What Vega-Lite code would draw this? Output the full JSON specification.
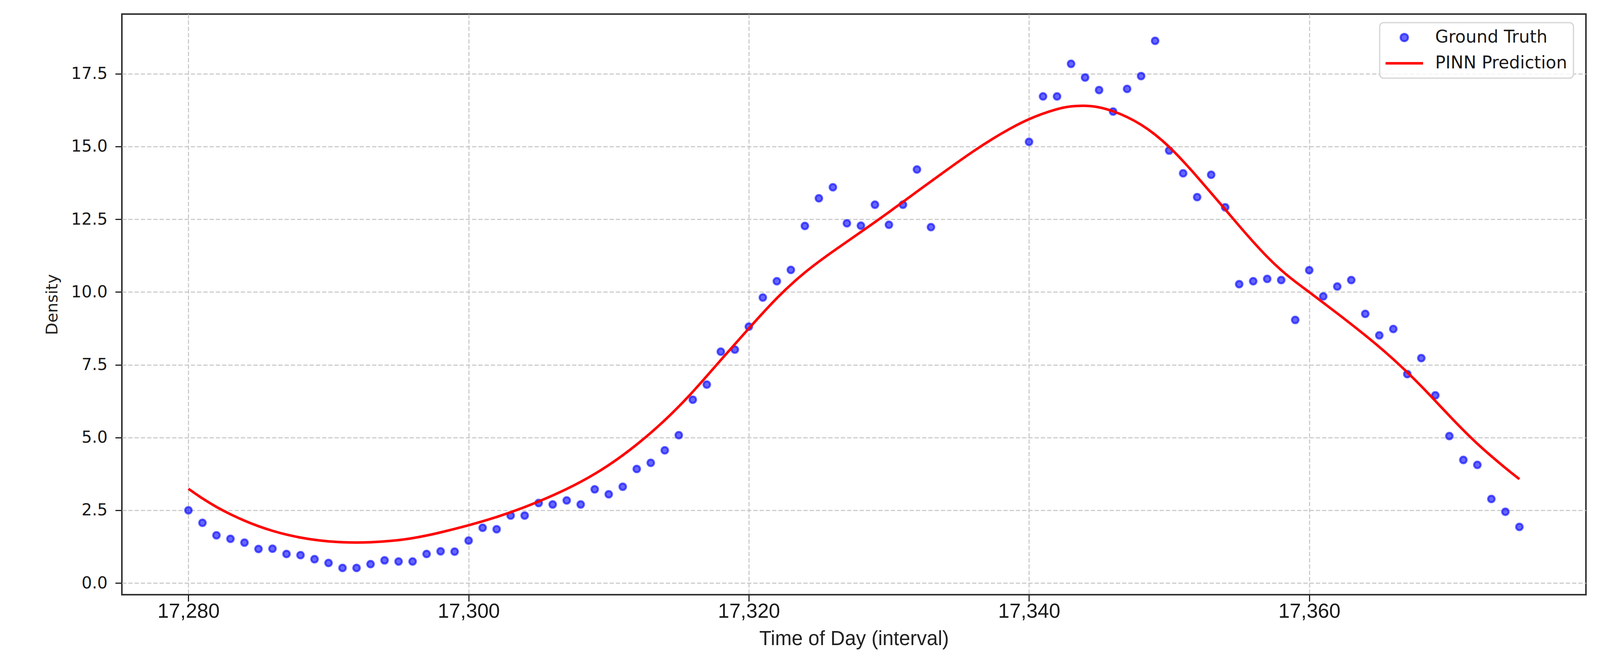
{
  "$schema": "https://vega.github.io/schema/vega-lite/v6.json",
  "width": 3748,
  "height": 1486,
  "autosize": {"type": "none"},
  "padding": {"left": 312, "top": 36, "right": 82, "bottom": 162},
  "background": "white",
  "config": {
    "view": {"stroke": "#333333", "strokeWidth": 4},
    "axis": {
      "grid": true,
      "gridColor": "#c4c4c4",
      "gridDash": [11, 5],
      "gridWidth": 2.5,
      "domain": false,
      "tickColor": "#222222",
      "tickWidth": 3,
      "tickSize": 17,
      "labelColor": "#1a1a1a",
      "titleColor": "#222222",
      "titleFontWeight": "normal",
      "labelFlush": false,
      "labelOverlap": false
    }
  },
  "data": {
    "values": [
      {"t": 17280, "density": 2.50, "series": "Ground Truth"},
      {"t": 17281, "density": 2.07, "series": "Ground Truth"},
      {"t": 17282, "density": 1.64, "series": "Ground Truth"},
      {"t": 17283, "density": 1.52, "series": "Ground Truth"},
      {"t": 17284, "density": 1.39, "series": "Ground Truth"},
      {"t": 17285, "density": 1.17, "series": "Ground Truth"},
      {"t": 17286, "density": 1.18, "series": "Ground Truth"},
      {"t": 17287, "density": 1.00, "series": "Ground Truth"},
      {"t": 17288, "density": 0.96, "series": "Ground Truth"},
      {"t": 17289, "density": 0.82, "series": "Ground Truth"},
      {"t": 17290, "density": 0.69, "series": "Ground Truth"},
      {"t": 17291, "density": 0.52, "series": "Ground Truth"},
      {"t": 17292, "density": 0.52, "series": "Ground Truth"},
      {"t": 17293, "density": 0.65, "series": "Ground Truth"},
      {"t": 17294, "density": 0.78, "series": "Ground Truth"},
      {"t": 17295, "density": 0.74, "series": "Ground Truth"},
      {"t": 17296, "density": 0.74, "series": "Ground Truth"},
      {"t": 17297, "density": 1.00, "series": "Ground Truth"},
      {"t": 17298, "density": 1.09, "series": "Ground Truth"},
      {"t": 17299, "density": 1.08, "series": "Ground Truth"},
      {"t": 17300, "density": 1.46, "series": "Ground Truth"},
      {"t": 17301, "density": 1.90, "series": "Ground Truth"},
      {"t": 17302, "density": 1.85, "series": "Ground Truth"},
      {"t": 17303, "density": 2.32, "series": "Ground Truth"},
      {"t": 17304, "density": 2.32, "series": "Ground Truth"},
      {"t": 17305, "density": 2.75, "series": "Ground Truth"},
      {"t": 17306, "density": 2.70, "series": "Ground Truth"},
      {"t": 17307, "density": 2.84, "series": "Ground Truth"},
      {"t": 17308, "density": 2.70, "series": "Ground Truth"},
      {"t": 17309, "density": 3.22, "series": "Ground Truth"},
      {"t": 17310, "density": 3.05, "series": "Ground Truth"},
      {"t": 17311, "density": 3.31, "series": "Ground Truth"},
      {"t": 17312, "density": 3.92, "series": "Ground Truth"},
      {"t": 17313, "density": 4.13, "series": "Ground Truth"},
      {"t": 17314, "density": 4.56, "series": "Ground Truth"},
      {"t": 17315, "density": 5.08, "series": "Ground Truth"},
      {"t": 17316, "density": 6.30, "series": "Ground Truth"},
      {"t": 17317, "density": 6.82, "series": "Ground Truth"},
      {"t": 17318, "density": 7.95, "series": "Ground Truth"},
      {"t": 17319, "density": 8.02, "series": "Ground Truth"},
      {"t": 17320, "density": 8.81, "series": "Ground Truth"},
      {"t": 17321, "density": 9.81, "series": "Ground Truth"},
      {"t": 17322, "density": 10.37, "series": "Ground Truth"},
      {"t": 17323, "density": 10.76, "series": "Ground Truth"},
      {"t": 17324, "density": 12.27, "series": "Ground Truth"},
      {"t": 17325, "density": 13.22, "series": "Ground Truth"},
      {"t": 17326, "density": 13.60, "series": "Ground Truth"},
      {"t": 17327, "density": 12.36, "series": "Ground Truth"},
      {"t": 17328, "density": 12.28, "series": "Ground Truth"},
      {"t": 17329, "density": 13.00, "series": "Ground Truth"},
      {"t": 17330, "density": 12.31, "series": "Ground Truth"},
      {"t": 17331, "density": 13.00, "series": "Ground Truth"},
      {"t": 17332, "density": 14.21, "series": "Ground Truth"},
      {"t": 17333, "density": 12.23, "series": "Ground Truth"},
      {"t": 17340, "density": 15.16, "series": "Ground Truth"},
      {"t": 17341, "density": 16.72, "series": "Ground Truth"},
      {"t": 17342, "density": 16.72, "series": "Ground Truth"},
      {"t": 17343, "density": 17.84, "series": "Ground Truth"},
      {"t": 17344, "density": 17.37, "series": "Ground Truth"},
      {"t": 17345, "density": 16.94, "series": "Ground Truth"},
      {"t": 17346, "density": 16.20, "series": "Ground Truth"},
      {"t": 17347, "density": 16.98, "series": "Ground Truth"},
      {"t": 17348, "density": 17.42, "series": "Ground Truth"},
      {"t": 17349, "density": 18.63, "series": "Ground Truth"},
      {"t": 17350, "density": 14.86, "series": "Ground Truth"},
      {"t": 17351, "density": 14.08, "series": "Ground Truth"},
      {"t": 17352, "density": 13.26, "series": "Ground Truth"},
      {"t": 17353, "density": 14.03, "series": "Ground Truth"},
      {"t": 17354, "density": 12.91, "series": "Ground Truth"},
      {"t": 17355, "density": 10.27, "series": "Ground Truth"},
      {"t": 17356, "density": 10.37, "series": "Ground Truth"},
      {"t": 17357, "density": 10.45, "series": "Ground Truth"},
      {"t": 17358, "density": 10.41, "series": "Ground Truth"},
      {"t": 17359, "density": 9.04, "series": "Ground Truth"},
      {"t": 17360, "density": 10.75, "series": "Ground Truth"},
      {"t": 17361, "density": 9.85, "series": "Ground Truth"},
      {"t": 17362, "density": 10.19, "series": "Ground Truth"},
      {"t": 17363, "density": 10.41, "series": "Ground Truth"},
      {"t": 17364, "density": 9.25, "series": "Ground Truth"},
      {"t": 17365, "density": 8.51, "series": "Ground Truth"},
      {"t": 17366, "density": 8.73, "series": "Ground Truth"},
      {"t": 17367, "density": 7.18, "series": "Ground Truth"},
      {"t": 17368, "density": 7.73, "series": "Ground Truth"},
      {"t": 17369, "density": 6.45, "series": "Ground Truth"},
      {"t": 17370, "density": 5.05, "series": "Ground Truth"},
      {"t": 17371, "density": 4.23, "series": "Ground Truth"},
      {"t": 17372, "density": 4.06, "series": "Ground Truth"},
      {"t": 17373, "density": 2.89, "series": "Ground Truth"},
      {"t": 17374, "density": 2.45, "series": "Ground Truth"},
      {"t": 17375, "density": 1.93, "series": "Ground Truth"},
      {"t": 17280, "density": 3.24, "series": "PINN Prediction"},
      {"t": 17281, "density": 2.90, "series": "PINN Prediction"},
      {"t": 17282, "density": 2.61, "series": "PINN Prediction"},
      {"t": 17283, "density": 2.36, "series": "PINN Prediction"},
      {"t": 17284, "density": 2.14, "series": "PINN Prediction"},
      {"t": 17285, "density": 1.95, "series": "PINN Prediction"},
      {"t": 17286, "density": 1.79, "series": "PINN Prediction"},
      {"t": 17287, "density": 1.66, "series": "PINN Prediction"},
      {"t": 17288, "density": 1.56, "series": "PINN Prediction"},
      {"t": 17289, "density": 1.48, "series": "PINN Prediction"},
      {"t": 17290, "density": 1.43, "series": "PINN Prediction"},
      {"t": 17291, "density": 1.40, "series": "PINN Prediction"},
      {"t": 17292, "density": 1.39, "series": "PINN Prediction"},
      {"t": 17293, "density": 1.40, "series": "PINN Prediction"},
      {"t": 17294, "density": 1.43, "series": "PINN Prediction"},
      {"t": 17295, "density": 1.47, "series": "PINN Prediction"},
      {"t": 17296, "density": 1.54, "series": "PINN Prediction"},
      {"t": 17297, "density": 1.63, "series": "PINN Prediction"},
      {"t": 17298, "density": 1.74, "series": "PINN Prediction"},
      {"t": 17299, "density": 1.86, "series": "PINN Prediction"},
      {"t": 17300, "density": 1.98, "series": "PINN Prediction"},
      {"t": 17302, "density": 2.26, "series": "PINN Prediction"},
      {"t": 17304, "density": 2.60, "series": "PINN Prediction"},
      {"t": 17306, "density": 3.00, "series": "PINN Prediction"},
      {"t": 17308, "density": 3.46, "series": "PINN Prediction"},
      {"t": 17310, "density": 4.03, "series": "PINN Prediction"},
      {"t": 17312, "density": 4.74, "series": "PINN Prediction"},
      {"t": 17314, "density": 5.57, "series": "PINN Prediction"},
      {"t": 17316, "density": 6.55, "series": "PINN Prediction"},
      {"t": 17318, "density": 7.67, "series": "PINN Prediction"},
      {"t": 17320, "density": 8.75, "series": "PINN Prediction"},
      {"t": 17322, "density": 9.82, "series": "PINN Prediction"},
      {"t": 17324, "density": 10.70, "series": "PINN Prediction"},
      {"t": 17326, "density": 11.40, "series": "PINN Prediction"},
      {"t": 17328, "density": 12.06, "series": "PINN Prediction"},
      {"t": 17330, "density": 12.74, "series": "PINN Prediction"},
      {"t": 17332, "density": 13.45, "series": "PINN Prediction"},
      {"t": 17334, "density": 14.15, "series": "PINN Prediction"},
      {"t": 17336, "density": 14.84, "series": "PINN Prediction"},
      {"t": 17338, "density": 15.45, "series": "PINN Prediction"},
      {"t": 17340, "density": 15.97, "series": "PINN Prediction"},
      {"t": 17342, "density": 16.30, "series": "PINN Prediction"},
      {"t": 17343, "density": 16.39, "series": "PINN Prediction"},
      {"t": 17344, "density": 16.41, "series": "PINN Prediction"},
      {"t": 17345, "density": 16.36, "series": "PINN Prediction"},
      {"t": 17346, "density": 16.22, "series": "PINN Prediction"},
      {"t": 17347, "density": 16.02, "series": "PINN Prediction"},
      {"t": 17348, "density": 15.76, "series": "PINN Prediction"},
      {"t": 17349, "density": 15.42, "series": "PINN Prediction"},
      {"t": 17350, "density": 15.00, "series": "PINN Prediction"},
      {"t": 17351, "density": 14.50, "series": "PINN Prediction"},
      {"t": 17352, "density": 13.96, "series": "PINN Prediction"},
      {"t": 17353, "density": 13.40, "series": "PINN Prediction"},
      {"t": 17354, "density": 12.84, "series": "PINN Prediction"},
      {"t": 17355, "density": 12.27, "series": "PINN Prediction"},
      {"t": 17356, "density": 11.72, "series": "PINN Prediction"},
      {"t": 17357, "density": 11.20, "series": "PINN Prediction"},
      {"t": 17358, "density": 10.74, "series": "PINN Prediction"},
      {"t": 17359, "density": 10.35, "series": "PINN Prediction"},
      {"t": 17360, "density": 10.00, "series": "PINN Prediction"},
      {"t": 17362, "density": 9.27, "series": "PINN Prediction"},
      {"t": 17364, "density": 8.52, "series": "PINN Prediction"},
      {"t": 17366, "density": 7.71, "series": "PINN Prediction"},
      {"t": 17368, "density": 6.78, "series": "PINN Prediction"},
      {"t": 17370, "density": 5.74, "series": "PINN Prediction"},
      {"t": 17372, "density": 4.76, "series": "PINN Prediction"},
      {"t": 17374, "density": 3.95, "series": "PINN Prediction"},
      {"t": 17375, "density": 3.57, "series": "PINN Prediction"}
    ]
  },
  "encoding": {
    "x": {
      "field": "t",
      "type": "quantitative",
      "scale": {"domain": [17275.25, 17379.75], "nice": false, "zero": false},
      "axis": {
        "values": [17280, 17300, 17320, 17340, 17360],
        "format": ",d",
        "labelFont": "Liberation Sans",
        "labelFontSize": 52,
        "labelPadding": 0,
        "title": "Time of Day (interval)",
        "titleFont": "Liberation Sans",
        "titleFontSize": 51,
        "titlePadding": 20
      }
    },
    "y": {
      "field": "density",
      "type": "quantitative",
      "scale": {"domain": [-0.4, 19.55], "nice": false, "zero": false},
      "axis": {
        "values": [0, 2.5, 5, 7.5, 10, 12.5, 15, 17.5],
        "format": ".1f",
        "labelFont": "DejaVu Sans",
        "labelFontSize": 42,
        "labelPadding": 20,
        "title": "Density",
        "titleFont": "DejaVu Sans",
        "titleFontSize": 41,
        "titlePadding": 26
      }
    },
    "color": {
      "field": "series",
      "type": "nominal",
      "scale": {"domain": ["Ground Truth", "PINN Prediction"], "range": ["blue", "red"]},
      "legend": {
        "title": null,
        "orient": "none",
        "legendX": 3220,
        "legendY": 22,
        "padding": 16,
        "rowPadding": 22,
        "symbolSize": 9216,
        "symbolOffset": 25,
        "labelOffset": 57,
        "labelFont": "DejaVu Sans",
        "labelFontSize": 44,
        "labelColor": "#1a1a1a",
        "labelLimit": 1000,
        "labelBaseline": "middle",
        "cornerRadius": 10,
        "strokeColor": "#d4d4d4",
        "fillColor": "rgba(255,255,255,0.8)",
        "encode": {
          "legend": {"update": {"strokeWidth": {"value": 3}}},
          "symbols": {
            "update": {
              "shape": {"signal": "datum.value === 'PINN Prediction' ? 'stroke' : 'M -0.2,0 A 0.2,0.2 0 1,0 0.2,0 A 0.2,0.2 0 1,0 -0.2,0 Z'"},
              "fill": {"signal": "datum.value === 'PINN Prediction' ? 'transparent' : 'blue'"},
              "fillOpacity": {"value": 0.6},
              "stroke": {"signal": "datum.value === 'PINN Prediction' ? 'red' : 'blue'"},
              "strokeOpacity": {"signal": "datum.value === 'PINN Prediction' ? 1 : 0.6"},
              "strokeWidth": {"signal": "datum.value === 'PINN Prediction' ? 6.5 : 5"},
              "opacity": {"value": 1}
            }
          }
        }
      }
    }
  },
  "layer": [
    {
      "transform": [{"filter": "datum.series === 'Ground Truth'"}],
      "mark": {
        "type": "point",
        "filled": true,
        "size": 290,
        "fillOpacity": 0.6,
        "stroke": "blue",
        "strokeOpacity": 0.6,
        "strokeWidth": 5
      }
    },
    {
      "transform": [{"filter": "datum.series === 'PINN Prediction'"}],
      "mark": {"type": "line", "strokeWidth": 6.5, "interpolate": "basis"}
    }
  ]
}
